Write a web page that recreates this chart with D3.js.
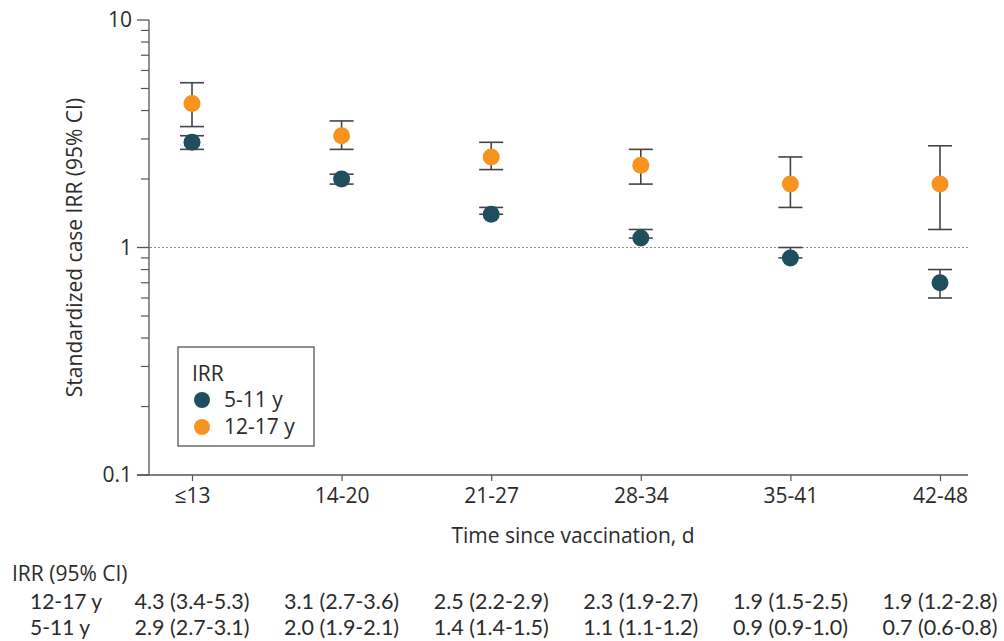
<!DOCTYPE html>
<html>
<head>
<meta charset="utf-8">
<script src="https://cdn.jsdelivr.net/npm/d3@7"></script>
<style>
  body { margin: 0; background: #fff; }
  svg { display: block; font-family: "Open Sans", "Noto Sans", sans-serif; }
</style>
</head>
<body>
<svg id="chart" width="1004" height="641"></svg>
<script>
// Time windows since vaccination
const categories = ["≤13", "14-20", "21-27", "28-34", "35-41", "42-48"];

// Standardized case IRR with 95% CI, 12-17 y
const irrOlder = [4.3, 3.1, 2.5, 2.3, 1.9, 1.9];
const lowOlder = [3.4, 2.7, 2.2, 1.9, 1.5, 1.2];
const highOlder = [5.3, 3.6, 2.9, 2.7, 2.5, 2.8];

// Standardized case IRR with 95% CI, 5-11 y
const irrYounger = [2.9, 2.0, 1.4, 1.1, 0.9, 0.7];
const lowYounger = [2.7, 1.9, 1.4, 1.1, 0.9, 0.6];
const highYounger = [3.1, 2.1, 1.5, 1.2, 1.0, 0.8];

const yTickValues = [0.1, 1, 10];
const yTickLabels = ["0.1", "1", "10"];

const series = [
  { name: "5-11 y", color: "#1f4e5e", irr: irrYounger, lo: lowYounger, hi: highYounger },
  { name: "12-17 y", color: "#f7931e", irr: irrOlder, lo: lowOlder, hi: highOlder }
];

const svg = d3.select("#chart");
const textColor = "#2b2b2b";
const axisColor = "#555";
const tableFont = "Lato, 'Open Sans', sans-serif";

const x = d3.scalePoint().domain(categories).range([192, 940]);
const y = d3.scaleLog().domain([0.1, 10]).range([475, 20]);

// Y axis: major ticks at decades, minor ticks in between
const minorTicks = [];
for (const base of [0.1, 1]) {
  for (let k = 2; k <= 9; k++) minorTicks.push(base * k);
}
const yAxisG = svg.append("g").attr("transform", "translate(149,0)");
yAxisG.append("line")
  .attr("x1", 0).attr("x2", 0)
  .attr("y1", y(10)).attr("y2", y(0.1))
  .attr("stroke", axisColor).attr("stroke-width", 1.3);
yAxisG.selectAll("line.minor").data(minorTicks).join("line")
  .attr("class", "minor")
  .attr("x1", -8).attr("x2", 0)
  .attr("y1", d => y(d)).attr("y2", d => y(d))
  .attr("stroke", axisColor).attr("stroke-width", 1.2);
yAxisG.selectAll("line.major").data(yTickValues).join("line")
  .attr("class", "major")
  .attr("x1", -12).attr("x2", 0)
  .attr("y1", d => y(d)).attr("y2", d => y(d))
  .attr("stroke", axisColor).attr("stroke-width", 1.3);
yAxisG.selectAll("text.tick").data(yTickValues).join("text")
  .attr("class", "tick")
  .attr("x", -17)
  .attr("y", d => y(d))
  .attr("dy", "0.35em")
  .attr("text-anchor", "end")
  .attr("font-size", 21)
  .attr("fill", textColor)
  .text((d, i) => yTickLabels[i]);

// X axis
const xAxis = d3.axisBottom(x).tickSize(6).tickPadding(7);
const xAxisG = svg.append("g").attr("transform", "translate(0,475)").call(xAxis);
xAxisG.select(".domain").remove();
xAxisG.insert("line", ":first-child")
  .attr("x1", 137).attr("x2", 968)
  .attr("stroke", axisColor).attr("stroke-width", 1.3);
xAxisG.selectAll(".tick line").attr("stroke", axisColor).attr("stroke-width", 1.2);
xAxisG.selectAll(".tick text")
  .attr("font-size", 21)
  .attr("font-family", "'Open Sans', sans-serif")
  .attr("fill", textColor);

// Reference line at IRR = 1
svg.append("line")
  .attr("x1", 150).attr("x2", 968)
  .attr("y1", y(1)).attr("y2", y(1))
  .attr("stroke", "#888").attr("stroke-width", 1.2)
  .attr("stroke-dasharray", "2,2");

// Axis titles
svg.append("text")
  .attr("transform", `translate(82,${y(1)}) rotate(-90)`)
  .attr("text-anchor", "middle")
  .attr("font-size", 21)
  .attr("fill", textColor)
  .text("Standardized case IRR (95% CI)");

svg.append("text")
  .attr("x", 573).attr("y", 543)
  .attr("text-anchor", "middle")
  .attr("font-size", 21)
  .attr("fill", textColor)
  .text("Time since vaccination, d");

// Error bars and points
const capHalf = 12;
series.forEach(s => {
  const g = svg.append("g");
  const idx = d3.range(categories.length);
  g.selectAll("line.whisker").data(idx).join("line")
    .attr("class", "whisker")
    .attr("x1", i => x(categories[i])).attr("x2", i => x(categories[i]))
    .attr("y1", i => y(s.lo[i])).attr("y2", i => y(s.hi[i]))
    .attr("stroke", "#444").attr("stroke-width", 1.6);
  g.selectAll("line.capLo").data(idx).join("line")
    .attr("class", "capLo")
    .attr("x1", i => x(categories[i]) - capHalf).attr("x2", i => x(categories[i]) + capHalf)
    .attr("y1", i => y(s.lo[i])).attr("y2", i => y(s.lo[i]))
    .attr("stroke", "#444").attr("stroke-width", 1.6);
  g.selectAll("line.capHi").data(idx).join("line")
    .attr("class", "capHi")
    .attr("x1", i => x(categories[i]) - capHalf).attr("x2", i => x(categories[i]) + capHalf)
    .attr("y1", i => y(s.hi[i])).attr("y2", i => y(s.hi[i]))
    .attr("stroke", "#444").attr("stroke-width", 1.6);
  g.selectAll("circle").data(idx).join("circle")
    .attr("cx", i => x(categories[i]))
    .attr("cy", i => y(s.irr[i]))
    .attr("r", 8.5)
    .attr("fill", s.color);
});

// Legend
const legend = svg.append("g").attr("transform", "translate(178,347)");
legend.append("rect")
  .attr("width", 136).attr("height", 99)
  .attr("fill", "#fff").attr("stroke", axisColor).attr("stroke-width", 1.3);
legend.append("text")
  .attr("x", 14).attr("y", 34)
  .attr("font-size", 21).attr("fill", textColor)
  .text("IRR");
series.forEach((s, i) => {
  legend.append("circle")
    .attr("cx", 24).attr("cy", 53 + i * 27)
    .attr("r", 8).attr("fill", s.color);
  legend.append("text")
    .attr("x", 46).attr("y", 53 + i * 27)
    .attr("dy", "0.35em")
    .attr("font-size", 21).attr("fill", textColor)
    .text(s.name);
});

// Table of IRR values beneath the chart
const fmt = v => v.toFixed(1);
svg.append("text")
  .attr("x", 12).attr("y", 581)
  .attr("font-size", 21).attr("fill", textColor)
  .text("IRR (95% CI)");
const tableRows = [series[1], series[0]];
tableRows.forEach((s, r) => {
  const rowY = 609 + r * 26;
  svg.append("text")
    .attr("x", 30).attr("y", rowY)
    .attr("font-family", tableFont)
    .attr("font-size", 21).attr("fill", textColor)
    .text(s.name);
  svg.selectAll(null).data(d3.range(categories.length)).join("text")
    .attr("x", i => x(categories[i]))
    .attr("y", rowY)
    .attr("text-anchor", "middle")
    .attr("font-family", tableFont)
    .attr("font-size", 21.5).attr("fill", textColor)
    .text(i => `${fmt(s.irr[i])} (${fmt(s.lo[i])}-${fmt(s.hi[i])})`);
});
</script>
</body>
</html>
